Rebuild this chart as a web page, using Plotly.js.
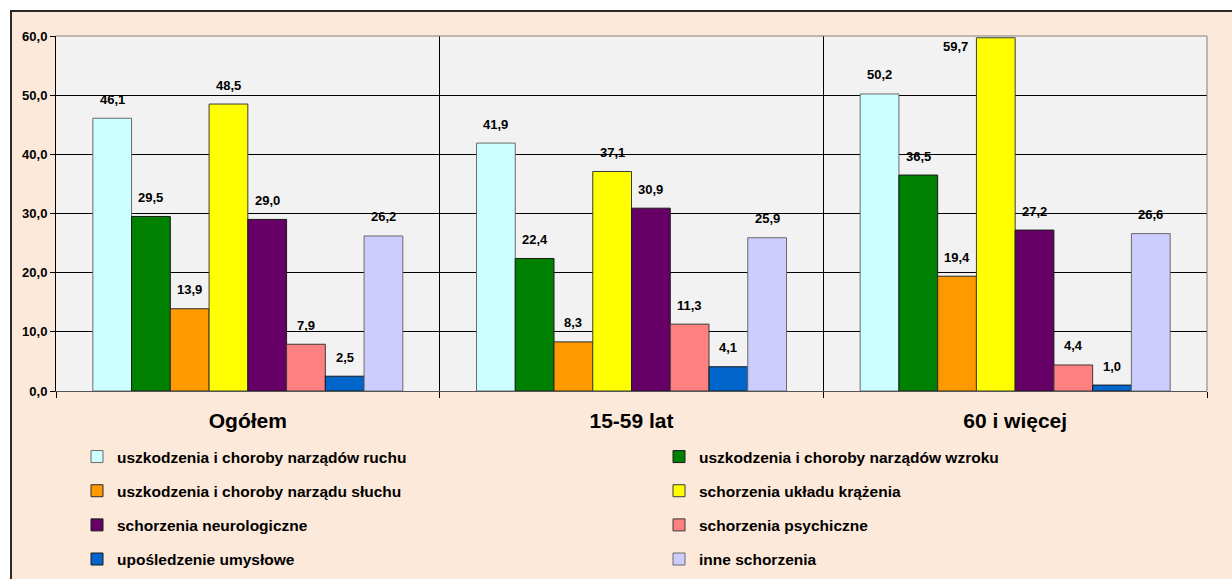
<!DOCTYPE html>
<html>
<head>
<meta charset="utf-8">
<script src="https://cdn.plot.ly/plotly-3.0.1.min.js"></script>
<style>
  html, body { margin: 0; padding: 0; background: #ffffff; overflow: hidden; }
  #frame { position: absolute; left: 10px; top: 10px; border-left: 2px solid #2a2a2a; border-top: 2px solid #2a2a2a; }
  #chart { width: 1230px; height: 620px; }
</style>
</head>
<body>
<div id="frame"><div id="chart"></div></div>
<script>
const categories = ['Ogółem', '15-59 lat', '60 i więcej'];

const seriesNames = [
  'uszkodzenia i choroby narządów ruchu',
  'uszkodzenia i choroby narządów wzroku',
  'uszkodzenia i choroby narządu słuchu',
  'schorzenia układu krążenia',
  'schorzenia neurologiczne',
  'schorzenia psychiczne',
  'upośledzenie umysłowe',
  'inne schorzenia'
];

const ruchu        = [46.1, 41.9, 50.2];
const wzroku       = [29.5, 22.4, 36.5];
const sluchu       = [13.9, 8.3, 19.4];
const krazenia     = [48.5, 37.1, 59.7];
const neurologiczne = [29.0, 30.9, 27.2];
const psychiczne   = [7.9, 11.3, 4.4];
const umyslowe     = [2.5, 4.1, 1.0];
const inne         = [26.2, 25.9, 26.6];

const yTickValues = [0, 10, 20, 30, 40, 50, 60];

const seriesValues = [ruchu, wzroku, sluchu, krazenia, neurologiczne, psychiczne, umyslowe, inne];
const seriesColors = ['#CCFFFF', '#008000', '#FF9900', '#FFFF00', '#660066', '#FF8080', '#0066CC', '#CCCCFF'];
const outlineColors = ['#6a6a6a', '#1a1a1a', '#2a2a2a', '#3a3a3a', '#1a1a1a', '#3a3a3a', '#1a1a1a', '#6a6a6a'];

const W = 1230, H = 620;
const M = { l: 44, t: 24, r: 35, b: 241 };
const plotW = W - M.l - M.r;
const plotH = H - M.t - M.b;
const bargap = 0.192;
const barPx = plotW / categories.length * (1 - bargap) / seriesNames.length;

const fontFamily = '"Liberation Sans", Arial, sans-serif';

const traces = seriesNames.map((name, k) => ({
  type: 'bar',
  name: name,
  x: categories,
  y: seriesValues[k],
  marker: { color: seriesColors[k], line: { color: outlineColors[k], width: 1 } },
  legend: (k % 2 === 0) ? 'legend' : 'legend2',
  legendgroup: 'g' + k,
  hoverinfo: 'none'
}));

// label nudges (pixels) for labels the original moved to stay inside the plot
const labelNudge = { '3-2': { dx: -40, dy: -28 } };

const annotations = [];
seriesValues.forEach((vals, k) => {
  vals.forEach((v, i) => {
    const n = labelNudge[k + '-' + i] || { dx: 0, dy: 0 };
    annotations.push({
      x: categories[i], y: v, xref: 'x', yref: 'y',
      text: v.toFixed(1).replace('.', ','),
      showarrow: false,
      xshift: (k - (seriesNames.length - 1) / 2) * barPx + n.dx,
      yshift: 19 + n.dy,
      yanchor: 'middle',
      font: { family: fontFamily, size: 13, color: '#000', weight: 'bold' }
    });
  });
});

// legend positions in pixels inside the chart div, converted to paper coordinates
const legendTop = 428;
const legendCommon = {
  orientation: 'v',
  traceorder: 'grouped',
  tracegroupgap: 11,
  bgcolor: 'rgba(0,0,0,0)',
  font: { family: fontFamily, size: 15.5, color: '#000', weight: 'bold' },
  xref: 'paper', yref: 'paper',
  xanchor: 'left', yanchor: 'top'
};

const layout = {
  width: W, height: H,
  margin: M,
  paper_bgcolor: '#FDE9D9',
  plot_bgcolor: '#F2F2F2',
  separators: ', ',
  barmode: 'group',
  bargap: bargap,
  bargroupgap: 0,
  showlegend: true,
  font: { family: fontFamily, color: '#000' },
  xaxis: {
    type: 'category',
    tickson: 'boundaries',
    showgrid: true, gridcolor: '#000', gridwidth: 1,
    ticks: 'outside', ticklen: 6, tickcolor: '#000', tickwidth: 1,
    showline: true, linecolor: '#555', linewidth: 1,
    tickfont: { family: fontFamily, size: 21, color: '#000', weight: 'bold' },
    tickangle: 0,
    ticklabelstandoff: 11,
    automargin: false,
    fixedrange: true
  },
  yaxis: {
    range: [0, 60],
    tickvals: yTickValues,
    tickformat: '.1f',
    showgrid: true, gridcolor: '#000', gridwidth: 1,
    zeroline: false,
    ticks: 'outside', ticklen: 5, tickcolor: '#000', tickwidth: 1,
    showline: true, linecolor: '#000', linewidth: 1,
    tickfont: { family: fontFamily, size: 13, color: '#000', weight: 'bold' },
    automargin: false,
    fixedrange: true
  },
  legend: Object.assign({}, legendCommon, { x: (65 - M.l) / plotW, y: 1 - (legendTop - M.t) / plotH }),
  legend2: Object.assign({}, legendCommon, { x: (647 - M.l) / plotW, y: 1 - (legendTop - M.t) / plotH }),
  annotations: annotations,
  shapes: [
    { type: 'line', xref: 'paper', yref: 'paper', x0: 0, x1: 1, y0: 1, y1: 1, line: { color: '#808080', width: 1 }, layer: 'above' },
    { type: 'line', xref: 'paper', yref: 'paper', x0: 1, x1: 1, y0: 0, y1: 1, line: { color: '#808080', width: 1 }, layer: 'above' }
  ]
};

Plotly.newPlot('chart', traces, layout, { displayModeBar: false, staticPlot: true });
</script>
</body>
</html>
